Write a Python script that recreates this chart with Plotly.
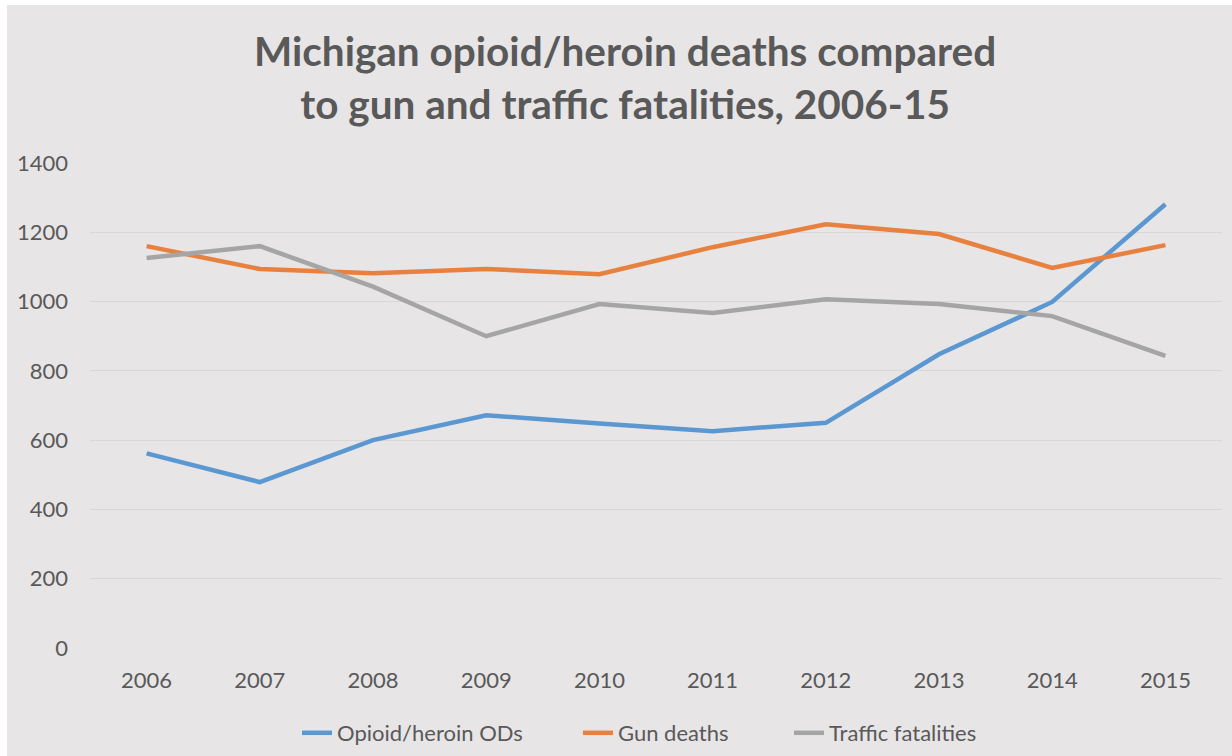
import plotly.graph_objects as go

years = ["2006", "2007", "2008", "2009", "2010", "2011", "2012", "2013", "2014", "2015"]
opioid = [562, 479, 600, 672, 648, 626, 650, 848, 999, 1281]
gun = [1160, 1094, 1082, 1094, 1079, 1157, 1223, 1195, 1097, 1163]
traffic = [1126, 1160, 1043, 900, 993, 967, 1007, 993, 958, 843]
y_ticks = [0, 200, 400, 600, 800, 1000, 1200, 1400]

BG = "#e7e5e6"
TXT = "#595959"
FONT = "Lato, sans-serif"

W, H = 1232, 756
ML, MR, MT, MB = 90, 10, 163, 108
pw = W - ML - MR
ph = H - MT - MB


def px_x(p):
    return (p - ML) / pw


def px_y(p):
    return (H - MB - p) / ph


fig = go.Figure()
series = [
    ("Opioid/heroin ODs", opioid, "#5b97d1", "legend", 297),
    ("Gun deaths", gun, "#e8813f", "legend2", 578),
    ("Traffic fatalities", traffic, "#a5a5a5", "legend3", 789),
]
legends = {}
for name, vals, col, lg, lx in series:
    fig.add_trace(go.Scatter(x=years, y=vals, name=name, mode="lines",
                             line=dict(color=col, width=4.5), legend=lg))
    legends[lg] = dict(
        orientation="h", x=px_x(lx), xanchor="left", y=px_y(733), yanchor="middle",
        font=dict(size=22, color=TXT, family=FONT), bgcolor="rgba(0,0,0,0)",
    )

fig.update_layout(
    width=W, height=H,
    margin=dict(l=ML, r=MR, t=MT, b=MB, autoexpand=False),
    paper_bgcolor=BG, plot_bgcolor=BG,
    font=dict(family=FONT, color=TXT, size=22),
    xaxis=dict(
        type="category", range=[-0.5, 9.5], showgrid=False, zeroline=False,
        showline=False, ticks="", ticklabelstandoff=17,
        tickfont=dict(size=22, color=TXT),
    ),
    yaxis=dict(
        range=[0, 1400], tickvals=y_ticks, showgrid=True, gridcolor="#d8d6d7",
        gridwidth=1, zeroline=False, showline=False, ticks="",
        ticklabelstandoff=21, tickfont=dict(size=22, color=TXT),
    ),
    showlegend=True,
    **legends,
)

fig.add_annotation(
    text="Michigan opioid/heroin deaths compared<br>to gun and traffic fatalities, 2006-15",
    xref="paper", yref="paper", x=px_x(625), y=px_y(77.5),
    xanchor="center", yanchor="middle", showarrow=False, align="center",
    font=dict(family=FONT, size=40.5, color=TXT, weight="bold"),
)

# thin white border at top and left of the original image
fig.add_shape(type="rect", xref="paper", yref="paper",
              x0=px_x(0), x1=px_x(W), y0=px_y(5), y1=px_y(0),
              fillcolor="white", line_width=0, layer="above")
fig.add_shape(type="rect", xref="paper", yref="paper",
              x0=px_x(0), x1=px_x(7), y0=px_y(H), y1=px_y(0),
              fillcolor="white", line_width=0, layer="above")

fig.write_html("out.html")
